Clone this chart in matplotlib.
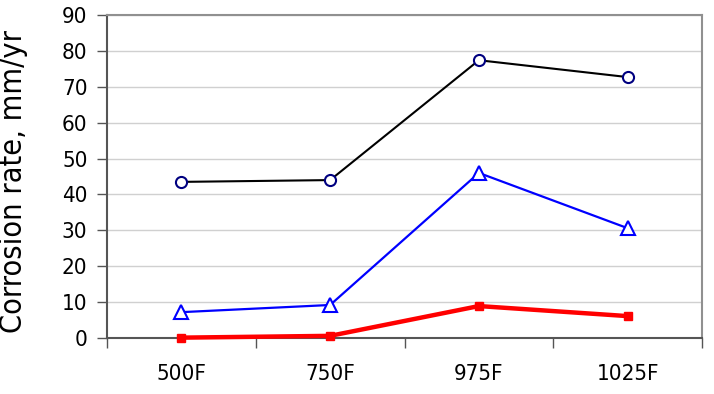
import matplotlib
matplotlib.use("Agg")
import matplotlib.pyplot as plt
import numpy as np

# valores
temps = ["500F", "750F", "975F", "1025F"]
rate_circle = [43.5, 44.0, 77.4, 72.7]
rate_triangle = [7.2, 9.2, 46.0, 30.6]
rate_square = [0.1, 0.6, 8.9, 6.1]

plt.rcParams["font.family"] = ["DejaVu Sans"]
plt.rcParams["font.stretch"] = "condensed"

fig = plt.figure(figsize=(7.14, 3.94), dpi=100)
ax = fig.add_axes([107 / 714, 1 - 338 / 394, 595 / 714, 323 / 394])

x = np.arange(len(temps))
ax.plot(x, rate_circle, color="black", lw=1.5, marker="o", ms=8,
        mfc="white", mec="#000080", mew=1.5, zorder=3)
ax.plot(x, rate_triangle, color="#0000ff", lw=1.6, marker="^", ms=10,
        mfc="white", mec="#0000ff", mew=1.5, zorder=3)
ax.plot(x, rate_square, color="#ff0000", lw=3.2, marker="s", ms=6,
        mfc="#ff0000", mec="#ff0000", zorder=3, clip_on=False)

ax.set_xlim(-0.5, len(temps) - 0.5)
ax.set_ylim(0, 90)
ax.set_yticks(np.arange(0, 91, 10))
ax.set_xticks(x)
ax.set_xticklabels(temps)
ax.set_xticks(np.arange(-0.5, len(temps), 1.0), minor=True)
ax.tick_params(axis="x", which="major", length=0, pad=19, labelsize=16)
ax.tick_params(axis="x", which="minor", length=7, width=1, color="#555555")
ax.tick_params(axis="y", length=7, width=1, color="#555555", labelsize=16, pad=7)

ax.grid(axis="y", color="#d0d0d0", lw=1)
ax.set_axisbelow(True)
for s in ["top", "right"]:
    ax.spines[s].set_color("#909090")
    ax.spines[s].set_linewidth(1.5)
for s in ["left", "bottom"]:
    ax.spines[s].set_color("#555555")
    ax.spines[s].set_linewidth(1.5)

ax.set_ylabel("Corrosion rate, mm/yr", fontsize=22)
ax.yaxis.set_label_coords(-0.132, 0.485)

fig.savefig("out.png", dpi=100)
